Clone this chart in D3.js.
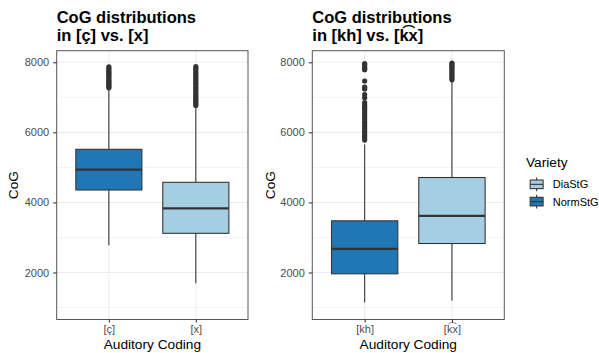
<!DOCTYPE html>
<html><head><meta charset="utf-8">
<script src="https://cdn.jsdelivr.net/npm/d3@7"></script>
<style>body{margin:0;background:#fff}svg{display:block}</style>
</head><body><svg id="c" width="599" height="353"></svg>
<script>
// ---------- data ----------
const yTicks = [2000, 4000, 6000, 8000];
const yMinorTicks = [1000, 3000, 5000, 7000];
const yDomain = [658, 8331];

const varieties = ["DiaStG", "NormStG"];
const varietyColors = ["#A6CEE3", "#1F78B4"];

// left panel
const leftTitle = ["CoG distributions", "in [ç] vs. [x]"];
const leftCategories = ["[ç]", "[x]"];
const leftVariety = ["NormStG", "DiaStG"];
const leftQ1 = [4355, 3118];
const leftMedian = [4934, 3832];
const leftQ3 = [5516, 4574];
const leftWhiskerLow = [2776, 1690];
const leftWhiskerHigh = [7240, 6740];
const leftOutliers = [
  [7870, 7820, 7780, 7730, 7690, 7640, 7600, 7550, 7500, 7460, 7420, 7380, 7340, 7300, 7270],
  [7880, 7830, 7780, 7720, 7670, 7620, 7560, 7510, 7450, 7400, 7350, 7290, 7240, 7190, 7130, 7080, 7030, 6970, 6920, 6870, 6820, 6770]
];

// right panel
const rightTitle = ["CoG distributions", "in [kh] vs. [k\u0361x]"];
const rightCategories = ["[kh]", "[k\u0361x]"];
const rightVariety = ["NormStG", "DiaStG"];
const rightQ1 = [1962, 2827];
const rightMedian = [2676, 3618];
const rightQ3 = [3475, 4711];
const rightWhiskerLow = [1143, 1200];
const rightWhiskerHigh = [5650, 7440];
const rightOutliers = [
  [7960, 7920, 7870, 7820, 7790, 7466, 7290, 7240, 7080, 6985, 6850, 6780, 6720, 6650, 6580, 6510, 6440, 6380, 6300, 6240, 6170, 6100, 6030, 5960, 5900, 5840, 5780],
  [7980, 7940, 7890, 7850, 7800, 7750, 7700, 7650, 7600, 7550, 7500]
];

// ---------- drawing ----------
const FONT = "'Liberation Sans', Arial, Helvetica, sans-serif";
const svg = d3.select("#c");
const color = d3.scaleOrdinal().domain(varieties).range(varietyColors);

const panelTop = 50.7, panelBottom = 319.5;
const y = d3.scaleLinear().domain(yDomain).range([panelBottom, panelTop]);

function drawPanel(opt) {
  const {x0, x1, title, cats, variety, q1, med, q3, wl, wh, outl, ylabX} = opt;
  const g = svg.append("g");
  const x = d3.scalePoint().domain(cats).range([x0, x1]).padding(0.6);
  const step = x.step();
  const bw = step * 0.76;

  // grid
  g.selectAll(".ymin").data(yMinorTicks).join("line")
    .attr("x1", x0).attr("x2", x1).attr("y1", d => y(d)).attr("y2", d => y(d))
    .attr("stroke", "#EBEBEB").attr("stroke-width", 0.55);
  g.selectAll(".ymaj").data(yTicks).join("line")
    .attr("x1", x0).attr("x2", x1).attr("y1", d => y(d)).attr("y2", d => y(d))
    .attr("stroke", "#EBEBEB").attr("stroke-width", 1.07);
  g.selectAll(".xmaj").data(cats).join("line")
    .attr("x1", d => x(d)).attr("x2", d => x(d)).attr("y1", panelTop).attr("y2", panelBottom)
    .attr("stroke", "#EBEBEB").attr("stroke-width", 1.07);

  const idx = d3.range(cats.length);
  // whiskers
  g.selectAll(".wh").data(idx).join("line")
    .attr("x1", i => x(cats[i])).attr("x2", i => x(cats[i]))
    .attr("y1", i => y(wh[i])).attr("y2", i => y(q3[i]))
    .attr("stroke", "#333333").attr("stroke-width", 1.07);
  g.selectAll(".wl").data(idx).join("line")
    .attr("x1", i => x(cats[i])).attr("x2", i => x(cats[i]))
    .attr("y1", i => y(q1[i])).attr("y2", i => y(wl[i]))
    .attr("stroke", "#333333").attr("stroke-width", 1.07);
  // boxes
  g.selectAll(".box").data(idx).join("rect")
    .attr("x", i => x(cats[i]) - bw / 2).attr("width", bw)
    .attr("y", i => y(q3[i])).attr("height", i => y(q1[i]) - y(q3[i]))
    .attr("fill", i => color(variety[i]))
    .attr("stroke", "#333333").attr("stroke-width", 1.07);
  g.selectAll(".med").data(idx).join("line")
    .attr("x1", i => x(cats[i]) - bw / 2).attr("x2", i => x(cats[i]) + bw / 2)
    .attr("y1", i => y(med[i])).attr("y2", i => y(med[i]))
    .attr("stroke", "#333333").attr("stroke-width", 2.2);
  // outliers
  idx.forEach(i => {
    g.selectAll(".o" + i).data(outl[i]).join("circle")
      .attr("cx", x(cats[i])).attr("cy", d => y(d)).attr("r", 2.6)
      .attr("fill", "#333333");
  });

  // border
  g.append("rect").attr("x", x0).attr("y", panelTop)
    .attr("width", x1 - x0).attr("height", panelBottom - panelTop)
    .attr("fill", "none").attr("stroke", "#555555").attr("stroke-width", 1);

  // axes
  const ax = g.append("g").attr("transform", `translate(0,${panelBottom})`)
    .call(d3.axisBottom(x).tickSize(3).tickPadding(2.5));
  const ay = g.append("g").attr("transform", `translate(${x0},0)`)
    .call(d3.axisLeft(y).tickValues(yTicks).tickFormat(d3.format("d")).tickSize(3.5).tickPadding(4));
  [ax, ay].forEach(a => {
    a.select(".domain").remove();
    a.selectAll(".tick line").attr("stroke", "#333333").attr("stroke-width", 1.07);
    a.selectAll("text").attr("fill", "#4D4D4D").style("font-family", FONT).style("font-size", "11px");
  });

  // axis titles
  g.append("text").attr("x", (x0 + x1) / 2).attr("y", 349)
    .attr("text-anchor", "middle").style("font-family", FONT).style("font-size", "13.7px")
    .attr("fill", "#000").text("Auditory Coding");
  g.append("text").attr("transform", `translate(${ylabX},${(panelTop + panelBottom) / 2}) rotate(-90)`)
    .attr("text-anchor", "middle").style("font-family", FONT).style("font-size", "13.7px")
    .attr("fill", "#000").text("CoG");

  // title
  const t = g.append("text").attr("x", x0).style("font-family", FONT)
    .style("font-size", "16.5px").style("font-weight", "bold").attr("fill", "#000");
  t.selectAll("tspan").data(title).join("tspan")
    .attr("x", x0).attr("y", (d, i) => 23.3 + i * 17.6).text(d => d);
}

drawPanel({x0: 56.7, x1: 248, title: leftTitle, cats: leftCategories, variety: leftVariety,
  q1: leftQ1, med: leftMedian, q3: leftQ3, wl: leftWhiskerLow, wh: leftWhiskerHigh, outl: leftOutliers, ylabX: 18.3});
drawPanel({x0: 312.3, x1: 504.3, title: rightTitle, cats: rightCategories, variety: rightVariety,
  q1: rightQ1, med: rightMedian, q3: rightQ3, wl: rightWhiskerLow, wh: rightWhiskerHigh, outl: rightOutliers, ylabX: 275});

// legend
const lg = svg.append("g").attr("transform", "translate(526,0)");
lg.append("text").attr("x", 0).attr("y", 166.5).style("font-family", FONT)
  .style("font-size", "13.7px").attr("fill", "#000").text("Variety");
const ks = 17.28;
const keys = lg.selectAll(".key").data(varieties).join("g")
  .attr("transform", (d, i) => `translate(2,${175.7 + i * ks})`);
keys.append("line").attr("x1", ks / 2).attr("x2", ks / 2).attr("y1", ks * 0.1).attr("y2", ks * 0.9)
  .attr("stroke", "#333333").attr("stroke-width", 1.07);
keys.append("rect").attr("x", ks * 0.125).attr("width", ks * 0.75)
  .attr("y", ks * 0.25).attr("height", ks * 0.5)
  .attr("fill", d => color(d)).attr("stroke", "#333333").attr("stroke-width", 1.07);
keys.append("line").attr("x1", ks * 0.125).attr("x2", ks * 0.875).attr("y1", ks / 2).attr("y2", ks / 2)
  .attr("stroke", "#333333").attr("stroke-width", 1.07);
keys.append("text").attr("x", ks + 7.5).attr("y", ks / 2).attr("dy", "0.36em")
  .style("font-family", FONT).style("font-size", "11px").attr("fill", "#000").text(d => d);
</script></body></html>
